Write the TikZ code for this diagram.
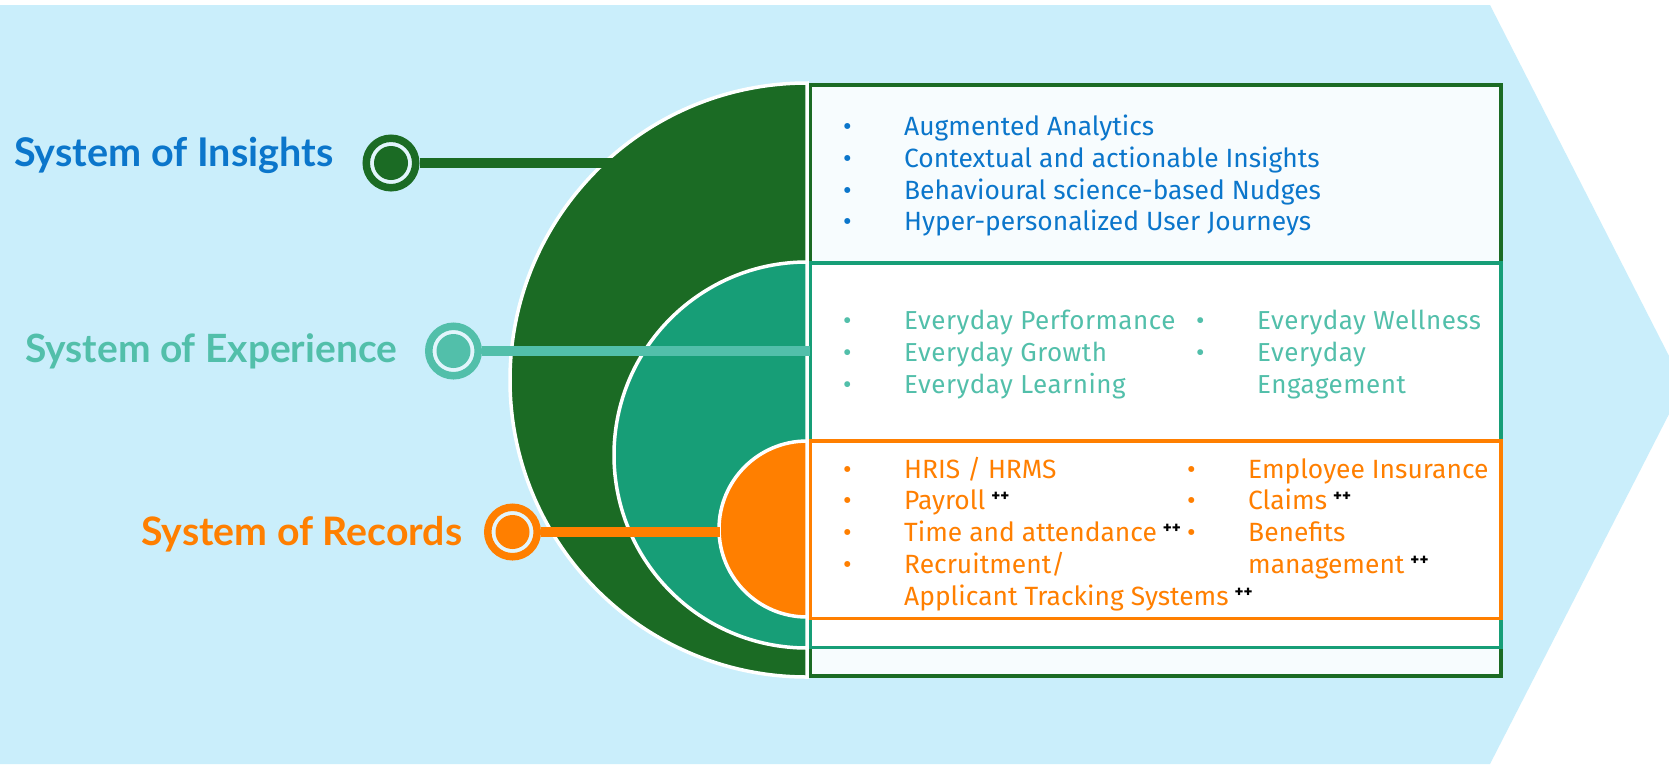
\documentclass[tikz,border=0pt]{standalone}
\usepackage{fontspec}
\setmainfont{Fira Sans}
\newfontfamily\labelfont{Lato}
\newfontfamily\boxfont{Fira Sans}
\newfontfamily\spacedfont{Fira Sans}[LetterSpace=2]
\definecolor{bgblue}{HTML}{CAEEFB}
\definecolor{dgreen}{HTML}{1B6B24}
\definecolor{tealdark}{HTML}{179E77}
\definecolor{teallight}{HTML}{52BFAA}
\definecolor{orng}{HTML}{FF7F00}
\definecolor{lblue}{HTML}{0B76CB}
\definecolor{boxbg}{HTML}{F7FCFE}
\definecolor{gapcol}{HTML}{E2F5FC}
\tikzset{
  marker/.style={circle, inner sep=0pt, minimum size=49.5pt, line width=7.5pt, draw=#1, fill=gapcol,
    path picture={\fill[#1] (path picture bounding box.center) circle (17pt);}},
  disc/.style={fill=#1, draw=white, line width=3.5pt},
  panel/.style={draw=#1, line width=3.5pt},
  conn/.style={draw=#1, line width=10pt},
  syslabel/.style={anchor=base west, inner sep=0pt, text=#1},
  item/.style={anchor=base west, inner sep=0pt, text=#1, font=\boxfont\fontsize{26.4}{30}\selectfont},
  eitem/.style={anchor=base west, inner sep=0pt, text=#1, font=\spacedfont\fontsize{26}{30}\selectfont},
}
\newcommand{\bul}{\makebox[61pt][l]{\textbullet}}
\newcommand{\pp}{\hspace{6pt}\textcolor{black}{\raisebox{8pt}{\fontsize{17}{17}\selectfont\bfseries ++}}}
\begin{document}
\begin{tikzpicture}[x=1pt,y=-1pt]
\useasboundingbox (0,0) rectangle (1669,764);
\fill[white] (0,0) rectangle (1669,764);
\fill[bgblue] (0,5) -- (1490,5) -- (1669,356) -- (1669,414) -- (1490,764) -- (0,764) -- cycle;

% half discs
\path[disc=dgreen] (807,83) arc[start angle=90, end angle=270, radius=297pt] -- cycle;
\path[disc=tealdark] (807,262) arc[start angle=90, end angle=270, radius=193pt] -- cycle;
\path[disc=orng] (807,441) arc[start angle=90, end angle=270, radius=88pt] -- cycle;

% panels
\path[panel=dgreen, fill=boxbg] (810.5,85) rectangle (1501,676);
\path[panel=tealdark, fill=white] (810.5,263) rectangle (1501,647.5);
\path[panel=orng, fill=white] (810.5,441) rectangle (1501,618.5);

% markers
\node[marker=dgreen] (mi) at (391,163) {};
\node[marker=teallight] (me) at (453.5,351) {};
\node[marker=orng] (mr) at (512.5,532) {};

\coordinate (ci) at (615,163);
\coordinate (ce) at (810,351);
\coordinate (cr) at (720,532);
\draw[conn=dgreen] (mi.east) -- (ci);
\draw[conn=teallight] (me.east) -- (ce);
\draw[conn=orng] (mr.east) -- (cr);

% labels
\node[syslabel=lblue] (li) at (14,166) {\resizebox{319pt}{!}{\labelfont\bfseries System of Insights}};
\node[syslabel=teallight] (le) at (25,362) {\resizebox{372pt}{!}{\labelfont\bfseries System of Experience}};
\node[syslabel=orng] (lr) at (141,545) {\resizebox{321pt}{!}{\labelfont\bfseries System of Records}};

% insights items
\node[item=lblue] (i1) at (843,135) {\bul Augmented Analytics};
\node[item=lblue] (i2) at (843,167) {\bul Contextual and actionable Insights};
\node[item=lblue] (i3) at (843,199) {\bul Behavioural science-based Nudges};
\node[item=lblue] (i4) at (843,230) {\bul Hyper-personalized User Journeys};

% experience items
\node[eitem=teallight] (e1) at (843,329) {\bul Everyday Performance};
\node[eitem=teallight] (e2) at (843,361) {\bul Everyday Growth};
\node[eitem=teallight] (e3) at (843,393) {\bul Everyday Learning};
\node[eitem=teallight] (e4) at (1196,329) {\bul Everyday Wellness};
\node[eitem=teallight] (e5) at (1196,361) {\bul Everyday};
\node[eitem=teallight] (e6) at (1257,393) {Engagement};

% records items
\node[item=orng] (r1) at (843,478) {\bul HRIS / HRMS};
\node[item=orng] (r2) at (843,509) {\bul Payroll\pp};
\node[item=orng] (r3) at (843,541) {\bul Time and attendance\pp};
\node[item=orng] (r4) at (843,573) {\bul Recruitment/};
\node[item=orng] (r5) at (904,605) {Applicant Tracking Systems\pp};
\node[item=orng] (r6) at (1187,478) {\bul Employee Insurance};
\node[item=orng] (r7) at (1187,509) {\bul Claims\pp};
\node[item=orng] (r8) at (1187,541) {\bul Benefits};
\node[item=orng] (r9) at (1248,573) {management\pp};
\end{tikzpicture}
\end{document}
